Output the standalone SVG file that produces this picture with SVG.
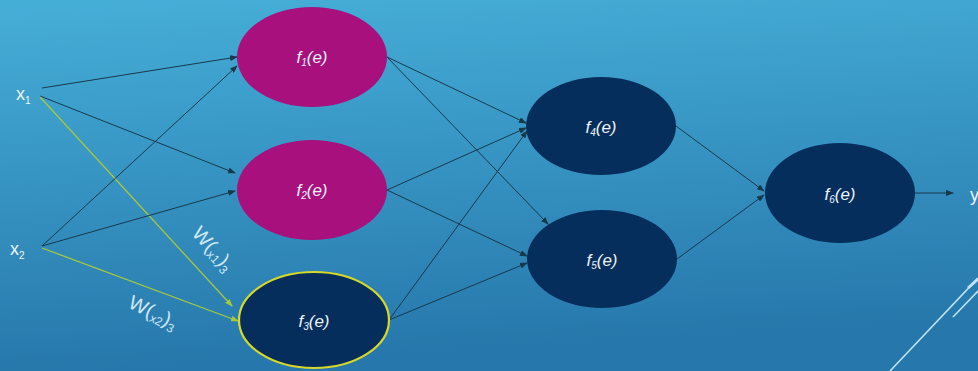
<svg xmlns="http://www.w3.org/2000/svg" width="978" height="371" viewBox="0 0 978 371">
<defs>
<linearGradient id="bg" x1="0" y1="0" x2="0.15" y2="1">
<stop offset="0" stop-color="#46afd8"/>
<stop offset="1" stop-color="#2677ab"/>
</linearGradient>
<marker id="ad" markerWidth="8" markerHeight="6" refX="7" refY="3" orient="auto" markerUnits="userSpaceOnUse">
<path d="M0,0 L8,3 L0,6 z" fill="#17394d"/>
</marker>
<marker id="ag" markerWidth="8" markerHeight="6" refX="7" refY="3" orient="auto" markerUnits="userSpaceOnUse">
<path d="M0,0 L8,3 L0,6 z" fill="#a8c83c"/>
</marker>
</defs>
<style>
.c{stroke:#17394d;stroke-width:1;fill:none;marker-end:url(#ad)}
.g{stroke:#a8c83c;stroke-width:1.3;fill:none;marker-end:url(#ag)}
.mag{fill:#a8107e}
.nav{fill:#062e5c}
.lbl{font-family:"Liberation Sans",Arial,sans-serif;font-style:italic;font-size:17px;fill:#eef3f8;text-anchor:middle}
.sub{font-size:10px}
.inp{font-family:"Liberation Sans",Arial,sans-serif;font-size:18px;fill:#f2f6fa}
.w{font-family:"Liberation Sans",Arial,sans-serif;font-size:20px;fill:#cfe8f6;font-weight:300}
.ws{font-size:12px}
</style>
<rect x="0" y="0" width="978" height="371" fill="url(#bg)"/>
<g id="deco" stroke="#bfe3f4" stroke-width="1.6" fill="none">
<line x1="890" y1="371" x2="978" y2="278"/>
<line x1="953" y1="317" x2="978" y2="291"/>
<line x1="968" y1="288" x2="978" y2="279" stroke-width="3"/>
</g>
<g id="connectors">
<line class="c" x1="42" y1="88" x2="237" y2="57"/>
<line class="c" x1="40" y1="96" x2="235" y2="173"/>
<line class="g" x1="40" y1="97" x2="232" y2="306"/>
<line class="c" x1="42" y1="246" x2="237" y2="66"/>
<line class="c" x1="42" y1="246" x2="235" y2="191"/>
<line class="g" x1="42" y1="248" x2="238" y2="321"/>
<line class="c" x1="387" y1="57" x2="526" y2="123"/>
<line class="c" x1="387" y1="57" x2="548" y2="224"/>
<line class="c" x1="387" y1="190" x2="526" y2="128"/>
<line class="c" x1="387" y1="190" x2="527" y2="256"/>
<line class="c" x1="389" y1="320" x2="527" y2="131"/>
<line class="c" x1="389" y1="320" x2="527" y2="263"/>
<line class="c" x1="676" y1="126" x2="764" y2="191"/>
<line class="c" x1="677" y1="259" x2="764" y2="195"/>
<line class="c" x1="914" y1="193" x2="953" y2="193"/>
</g>
<g id="x1"><text class="inp" x="16" y="100">x<tspan class="sub" dy="4">1</tspan></text></g>
<g id="x2"><text class="inp" x="10" y="255">x<tspan class="sub" dy="4">2</tspan></text></g>
<g id="y"><text class="inp" x="970" y="201">y</text></g>
<g id="f1"><ellipse class="mag" cx="312" cy="57" rx="75" ry="50"/><text class="lbl" x="312" y="63">f<tspan class="sub" dy="3">1</tspan><tspan dy="-3">(e)</tspan></text></g>
<g id="f2"><ellipse class="mag" cx="312" cy="190" rx="75" ry="50"/><text class="lbl" x="312" y="196">f<tspan class="sub" dy="3">2</tspan><tspan dy="-3">(e)</tspan></text></g>
<g id="f3"><ellipse class="nav" cx="314" cy="320" rx="75" ry="48" stroke="#d6d82a" stroke-width="2.2"/><text class="lbl" x="314" y="327">f<tspan class="sub" dy="3">3</tspan><tspan dy="-3">(e)</tspan></text></g>
<g id="f4"><ellipse class="nav" cx="601" cy="126" rx="75" ry="49"/><text class="lbl" x="601" y="133">f<tspan class="sub" dy="3">4</tspan><tspan dy="-3">(e)</tspan></text></g>
<g id="f5"><ellipse class="nav" cx="602" cy="259" rx="75" ry="49"/><text class="lbl" x="602" y="266">f<tspan class="sub" dy="3">5</tspan><tspan dy="-3">(e)</tspan></text></g>
<g id="f6"><ellipse class="nav" cx="840" cy="193" rx="75" ry="50"/><text class="lbl" x="840" y="200">f<tspan class="sub" dy="3">6</tspan><tspan dy="-3">(e)</tspan></text></g>
<g id="w1"><text class="w" transform="translate(191,234) rotate(48)">W(<tspan class="ws" dy="3">x1</tspan><tspan dy="-3">)</tspan><tspan class="ws" dy="4">3</tspan></text></g>
<g id="w2"><text class="w" transform="translate(127,307) rotate(26)">W(<tspan class="ws" dy="3">x2</tspan><tspan dy="-3">)</tspan><tspan class="ws" dy="4">3</tspan></text></g>
</svg>
